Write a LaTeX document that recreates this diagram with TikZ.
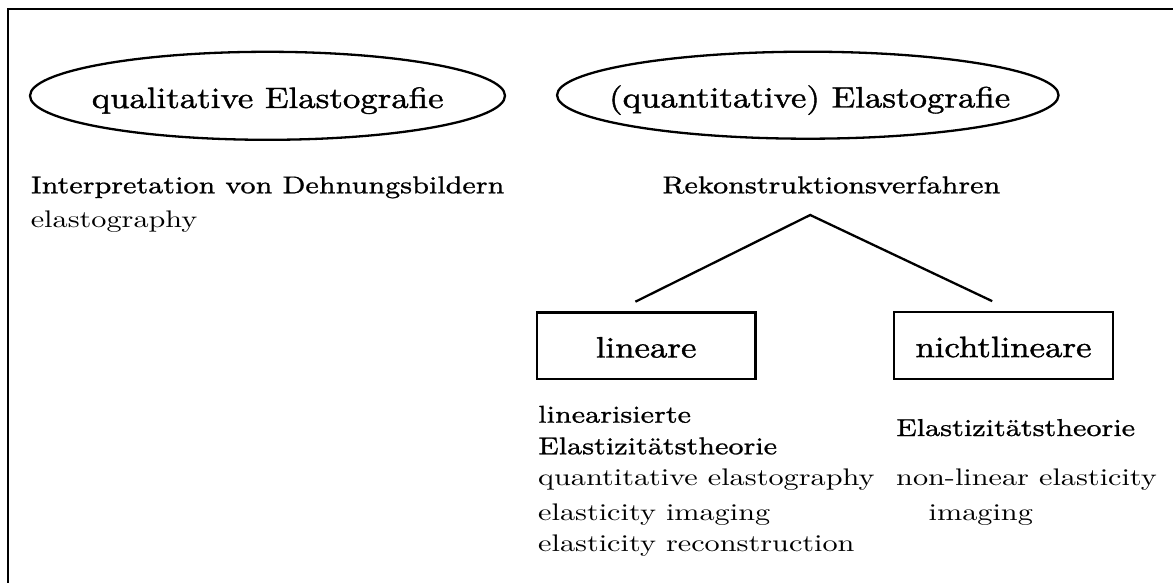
\documentclass[tikz,border=0pt]{standalone}
\usepackage{fontspec}
\setmainfont{lmroman10-regular.otf}
\newfontfamily\lfont{lmroman10-regular.otf}[FakeBold=1.2]
\newfontfamily\dfont{lmroman8-regular.otf}[FakeBold=0.8]
\newfontfamily\efont{lmroman10-regular.otf}
\usepackage{graphicx}
\usetikzlibrary{shapes.geometric}
\newcommand\txL[1]{\scalebox{1.18}[1]{\lfont\fontsize{29.5}{30}\selectfont #1}}
\newcommand\txD[1]{\scalebox{1.165}[1]{\dfont\fontsize{24.4}{26}\selectfont #1}}
\newcommand\txE[1]{\scalebox{1.26}[1]{\efont\fontsize{24}{26}\selectfont #1}}
\tikzset{
  oval/.style={draw, ellipse, line width=2.3pt, inner sep=0pt},
  boxn/.style={draw, rectangle, line width=2.3pt, inner sep=0pt, text height=23.6pt, text depth=0pt},
  lbl/.style={inner sep=0pt, anchor=base west},
  lblc/.style={inner sep=0pt, anchor=base},
  conn/.style={line width=2.3pt},
  frameline/.style={line width=2pt},
}
\begin{document}
\begin{tikzpicture}[x=1pt,y=-1pt]
\useasboundingbox[fill=white] (0,0) rectangle (1173,583);
\coordinate (fTR) at (1173,9);
\coordinate (fTL) at (7.7,9);
\coordinate (fBL) at (7.7,583);
\draw[frameline] (fTR) -- (fTL) -- (fBL);

\node[oval, minimum width=475pt, minimum height=88pt] (e1) at (267.5,95.8) {};
\node[lblc] (t1) at (267.7,108) {\txL{qualitative Elastografie}};
\node[oval, minimum width=501.5pt, minimum height=87pt] (e2) at (807.8,95.2) {};
\node[lblc] (t2) at (809.7,107.5) {\txL{(quantitative) Elastografie}};

\node[lbl] (interp) at (30.6,193.3) {\txD{Interpretation von Dehnungsbildern}};
\node[lbl] (elg) at (30.6,227) {\txE{elastography}};
\node[lblc] (rek) at (831.3,193.3) {\txD{Rekonstruktionsverfahren}};

\coordinate (apex) at (810.2,215);
\node[boxn, minimum width=218.4pt, minimum height=66.7pt] (lin) at (646.2,345.7) {\txL{lineare}};
\node[boxn, minimum width=219pt, minimum height=67pt] (nlin) at (1003.5,345.3) {\txL{nichtlineare}};
\draw[conn] ([xshift=-10.8pt,yshift=9.5pt]lin.north) -- (apex) -- ([xshift=-11.3pt,yshift=9.5pt]nlin.north);

\node[lbl] (l1) at (538,422.7) {\txD{linearisierte}};
\node[lbl] (l2) at (538,454.3) {\txD{Elastizitätstheorie}};
\node[lbl] (l3) at (538,485.5) {\txE{quantitative elastography}};
\node[lbl] (l4) at (538,520) {\txE{elasticity imaging}};
\node[lbl] (l5) at (538,551.7) {\txE{elasticity reconstruction}};
\node[lbl] (r1) at (896,436) {\txD{Elastizitätstheorie}};
\node[lbl] (r2) at (896,485.5) {\txE{non-linear elasticity}};
\node[lbl] (r3) at (928.5,520) {\txE{imaging}};
\end{tikzpicture}
\end{document}
